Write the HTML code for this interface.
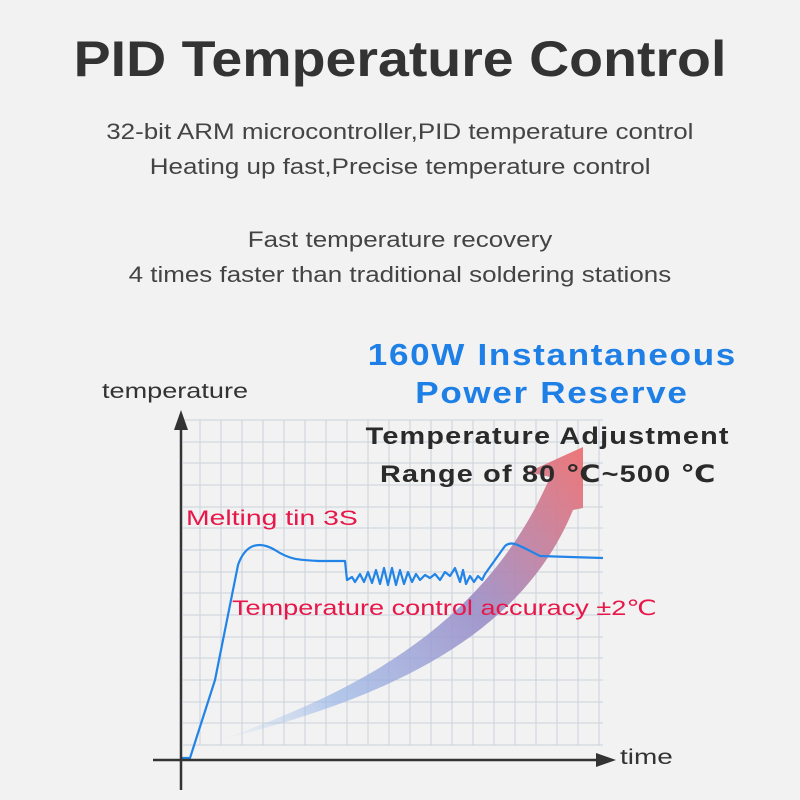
<!DOCTYPE html>
<html><head><meta charset="utf-8"><style>
html,body{margin:0;padding:0;background:#f2f2f2;}
body{width:800px;height:800px;position:relative;overflow:hidden;font-family:"Liberation Sans","DejaVu Sans",sans-serif;}
.t{position:absolute;left:0;width:800px;text-align:center;white-space:nowrap;}
.s{display:inline-block;white-space:nowrap;}
.a{position:absolute;white-space:nowrap;transform-origin:0 0;}
</style></head><body>
<svg width="800" height="800" style="position:absolute;left:0;top:0">
<defs>
<linearGradient id="g" x1="220" y1="740" x2="590" y2="450" gradientUnits="userSpaceOnUse">
<stop offset="0" stop-color="#a8c4ee" stop-opacity="0"/>
<stop offset="0.25" stop-color="#98b4e6" stop-opacity="0.7"/>
<stop offset="0.6" stop-color="#9a8ec8" stop-opacity="0.9"/>
<stop offset="1" stop-color="#f07070" stop-opacity="0.95"/>
</linearGradient>
</defs>
<path d="M200 420V745M221 420V745M242 420V745M263 420V745M284 420V745M305 420V745M326 420V745M347 420V745M368 420V745M389 420V745M410 420V745M431 420V745M452 420V745M473 420V745M494 420V745M515 420V745M536 420V745M557 420V745M578 420V745M599 420V745
M183 420H603M183 442H603M183 463H603M183 485H603M183 507H603M183 528H603M183 550H603M183 572H603M183 593H603M183 615H603M183 637H603M183 658H603M183 680H603M183 702H603M183 723H603M183 745H603" stroke="#c9d3dc" stroke-width="1" fill="none"/>
<path d="M220 740 C330 700 480 640 550 477 L528 472 L583 447 L583 508 L573 510 C520 640 380 700 220 740Z" fill="url(#g)"/>
<path d="M180 758H190 L215 680 L238 565 C245 545 258 540 275 550 C290 560 300 560 320 561 L345 561 L347 580 L352 577 L355 582 L360 574 L364 582 L368 572 L372 583 L376 570 L380 584 L384 568 L388 585 L392 568 L396 585 L400 570 L404 584 L408 572 L412 582 L416 574 L420 580 L425 575 L430 578 L435 574 L440 580 L445 572 L450 576 L455 568 L460 582 L463 570 L466 584 L470 576 L474 582 L478 576 L482 580 L485 574 L495 560 L505 546 C512 540 518 545 540 556 L570 557 L603 558" stroke="#2384e8" stroke-width="2.2" fill="none" stroke-linejoin="round"/>
<path d="M181 790V418" stroke="#333" stroke-width="2.5"/>
<path d="M174 430L181 410L188 430Z" fill="#333"/>
<path d="M153 760H600" stroke="#333" stroke-width="2.5"/>
<path d="M596 753L616 760L596 767Z" fill="#333"/>
</svg>
<div class="t" style="top:30px;font-size:50px;font-weight:bold;color:#333;"><span class="s" style="transform:scaleX(1.11)">PID Temperature Control</span></div>
<div class="t" style="top:114px;font-size:22px;color:#444;line-height:35px"><span class="s" style="transform:scaleX(1.18)">32-bit ARM microcontroller,PID temperature control</span><br><span class="s" style="transform:scaleX(1.18)">Heating up fast,Precise temperature control</span></div>
<div class="t" style="top:222px;font-size:22px;color:#444;line-height:35px"><span class="s" style="transform:scaleX(1.18)">Fast temperature recovery</span><br><span class="s" style="transform:scaleX(1.18)">4 times faster than traditional soldering stations</span></div>
<div style="position:absolute;left:352px;width:400px;text-align:center;top:336px;font-size:31px;font-weight:bold;color:#1e7fe6;line-height:38px;letter-spacing:1.5px"><span class="s" style="transform:scaleX(1.13)">160W Instantaneous</span><br><span class="s" style="transform:scaleX(1.13)">Power Reserve</span></div>
<div style="position:absolute;left:348px;width:400px;text-align:center;top:418px;font-size:24px;font-weight:bold;color:#2a2a2a;line-height:38px;letter-spacing:1px"><span class="s" style="transform:scaleX(1.2)">Temperature Adjustment</span><br><span class="s" style="transform:scaleX(1.2)">Range of 80 ℃~500 ℃</span></div>
<div class="a" style="left:102px;top:380px;font-size:21px;color:#333;transform:scaleX(1.29)">temperature</div>
<div class="a" style="left:620px;top:746px;font-size:21px;color:#333;transform:scaleX(1.33)">time</div>
<div class="a" style="left:186px;top:507px;font-size:21px;color:#e8174a;transform:scaleX(1.35)">Melting tin 3S</div>
<div class="a" style="left:232px;top:596px;font-size:21px;color:#e8174a;transform:scaleX(1.29)">Temperature control accuracy ±2℃</div>
</body></html>
